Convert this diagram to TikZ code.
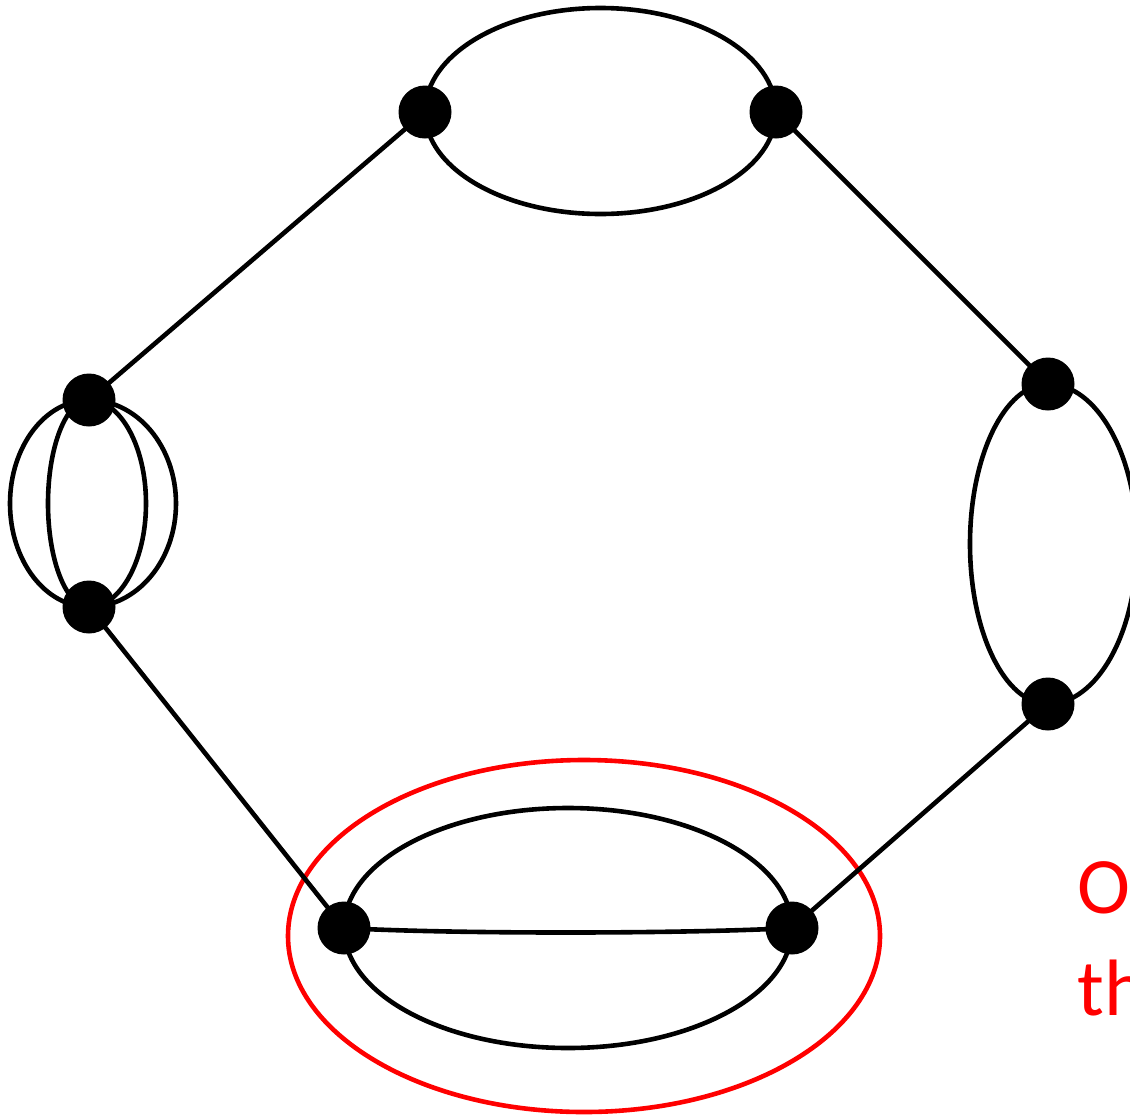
\documentclass[tikz,border=0pt]{standalone}
\usepackage{fontspec}
\setmainfont{Carlito}
\begin{document}
\begin{tikzpicture}[x=1pt,y=-1pt,
  dot/.style={circle,fill=black,minimum size=53pt,inner sep=0pt},
  edge/.style={draw=black,line width=4.6pt},
  hilite/.style={draw=red,line width=4.6pt},
  lbl/.style={text=red,inner sep=0pt,font=\fontsize{80}{98}\selectfont}]
\useasboundingbox (0,0) rectangle (1130,1114);
\clip (0,0) rectangle (1130,1114);
\coordinate (A) at (425,112);
\coordinate (B) at (776,112);
\coordinate (C) at (89,400);
\coordinate (D) at (89,607);
\coordinate (E) at (1048,384);
\coordinate (F) at (1048,704);
\coordinate (G) at (344,928);
\coordinate (H) at (792,928);
% red ellipse
\draw[hilite] (584,936) ellipse[x radius=296,y radius=176];
% straight links
\draw[edge] (A) -- (C);
\draw[edge] (B) -- (E);
\draw[edge] (D) -- (G);
\draw[edge] (F) -- (H);
% top pair
\draw[edge] (A) arc[start angle=180,end angle=360,x radius=175.5,y radius=104];
\draw[edge] (A) arc[start angle=180,end angle=0,x radius=175.5,y radius=102];
% left pair
\draw[edge] (C) arc[start angle=270,end angle=90,x radius=79,y radius=103.5];
\draw[edge] (C) arc[start angle=270,end angle=90,x radius=41,y radius=103.5];
\draw[edge] (C) arc[start angle=270,end angle=450,x radius=57,y radius=103.5];
\draw[edge] (C) arc[start angle=270,end angle=450,x radius=87,y radius=103.5];
% right pair
\draw[edge] (E) arc[start angle=270,end angle=90,x radius=78,y radius=160];
\draw[edge] (E) arc[start angle=270,end angle=450,x radius=89,y radius=160];
% bottom pair
\draw[edge] (G) arc[start angle=180,end angle=360,x radius=224,y radius=120];
\draw[edge] (G) arc[start angle=180,end angle=0,x radius=224,y radius=120];
\draw[edge] (G) .. controls (450,934) and (680,934) .. (H);
% dots
\foreach \p in {A,B,C,D,E,F,G,H} \node[dot] (n\p) at (\p) {};
% label, cut off at the right edge as in the reference
\node[lbl,anchor=base west] (t1) at (1077,913) {O};
\node[lbl,anchor=base west] (t2) at (1077,1015) {th};
\end{tikzpicture}
\end{document}
